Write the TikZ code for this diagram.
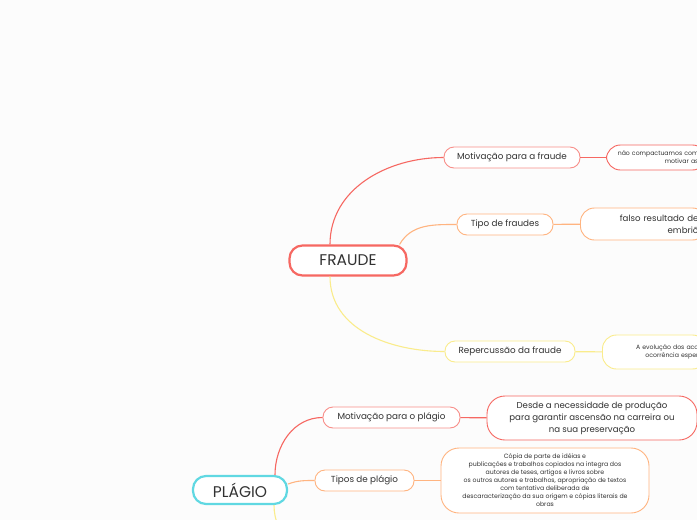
\documentclass[tikz,border=0pt]{standalone}
\usepackage{fontspec}
\setmainfont{Poppins}
\usetikzlibrary{positioning}
\definecolor{mmred}{RGB}{246, 104, 98}
\definecolor{mmorange}{RGB}{255, 180, 128}
\definecolor{mmyellow}{RGB}{250, 236, 140}
\definecolor{mmcyan}{RGB}{96, 216, 226}
\definecolor{mmtext}{RGB}{50, 50, 50}

\begin{document}
\begin{tikzpicture}[x=1pt, y=1pt,
  root/.style={draw, line width=2.2pt, rounded corners=13pt, fill=white,
    minimum height=30pt, text=mmtext, font=\fontsize{15.5}{17}\selectfont},
  topic/.style={draw, line width=0.9pt, rounded corners=10pt, fill=white,
    minimum height=21pt, text=mmtext, font=\fontsize{8.8}{10}\selectfont},
  note/.style={draw, line width=0.9pt, rounded corners=14pt, fill=white,
    align=center, text=mmtext, font=\fontsize{6.2}{8}\selectfont},
  link/.style={line width=1.1pt}
]
\useasboundingbox (0,0) rectangle (697,-520);
\fill[white!99!black] (0,0) rectangle (697,-520);

% FRAUDE
\node[root, draw=mmred, minimum width=117pt] (fraude) at (348,-260.5) {FRAUDE};
\node[topic, draw=mmred!75, minimum width=136pt] (mf) at (512,-157.5) {Motivação para a fraude};
\node[topic, draw=mmorange, minimum width=96pt] (tf) at (505,-224.5) {Tipo de fraudes};
\node[topic, draw=mmyellow, minimum width=130pt] (rf) at (510,-351.5) {Repercussão da fraude};
\node[note, draw=mmred, anchor=west, align=right, text width=84pt, minimum height=25pt,
  inner xsep=8pt] (mfnote) at (606,-157.5) {não compactuamos com\\motivar as};
\node[note, draw=mmorange, anchor=west, align=right, text width=110pt, minimum height=32pt,
  inner xsep=8pt, font=\fontsize{8.6}{12}\selectfont] (tfnote) at (580,-224) {falso resultado de\\embriõ};
\node[note, draw=mmyellow, anchor=west, align=right, text width=88pt, minimum height=34pt,
  inner xsep=8pt] (rfnote) at (602,-352) {A evolução dos aco\\ocorrência esper};

\draw[link, mmred] ([xshift=-18pt]fraude.north) to[out=90, in=180] (mf.west);
\draw[link, mmorange] ([xshift=-8pt]fraude.north east) to[out=60, in=180] (tf.west);
\draw[link, mmyellow] ([xshift=-18pt]fraude.south) to[out=-90, in=180] (rf.west);
\draw[link, mmred] (mf) -- (mfnote);
\draw[link, mmorange] (tf) -- (tfnote);
\draw[link, mmyellow] (rf) -- (rfnote);

% PLAGIO
\node[root, draw=mmcyan, minimum width=94pt, minimum height=28pt] (plagio) at (240,-490) {PLÁGIO};
\node[topic, draw=mmred!75, minimum width=137pt] (mp) at (391.5,-417.5) {Motivação para o plágio};
\node[topic, draw=mmorange, minimum width=99pt] (tp) at (364.5,-480.5) {Tipos de plágio};
\node[note, draw=mmred, minimum width=210pt, minimum height=44pt, rounded corners=18pt,
  font=\fontsize{8.6}{12}\selectfont] (mpnote) at (592,-418)
  {Desde a necessidade de produção\\para garantir ascensão na carreira ou\\na sua preservação};
\node[note, draw=mmorange, minimum width=208pt, minimum height=65pt, rounded corners=18pt] (tpnote) at (545,-480.5)
  {Cópia de parte de idéias e\\publicações e trabalhos copiados na integra dos\\autores de teses, artigos e livros sobre\\os outros autores e trabalhos, apropriação de textos\\com tentativa deliberada de\\descaracterização da sua origem e cópias literais de\\obras};
\coordinate (plagiomore) at (330,-560);

\draw[link, mmred] ([xshift=35pt]plagio.north) to[out=90, in=180] (mp.west);
\draw[link, mmorange] ([yshift=6pt]plagio.east) to[out=20, in=180] (tp.west);
\draw[link, mmyellow] ([xshift=34pt]plagio.south) to[out=-90, in=180] (plagiomore);
\draw[link, mmred] (mp) -- (mpnote);
\draw[link, mmorange] (tp) -- (tpnote);
\end{tikzpicture}
\end{document}
